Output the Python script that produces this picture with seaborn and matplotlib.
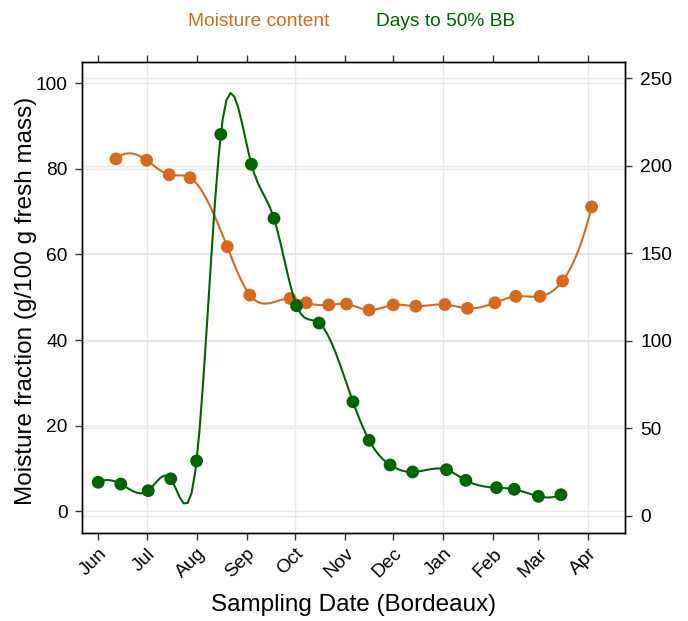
import numpy as np
import pandas as pd
import matplotlib
matplotlib.use("Agg")
import matplotlib.pyplot as plt
import matplotlib.dates as mdates
from matplotlib.lines import Line2D
from matplotlib.transforms import blended_transform_factory
import seaborn as sns

# ---- data -----------------------------------------------------------------
moisture_dates = ["2014-06-12", "2014-07-01", "2014-07-15", "2014-07-28",
                  "2014-08-20", "2014-09-03", "2014-09-28", "2014-10-08",
                  "2014-10-22", "2014-11-02", "2014-11-16", "2014-12-01",
                  "2014-12-15", "2015-01-02", "2015-01-16", "2015-02-02",
                  "2015-02-15", "2015-03-02", "2015-03-16", "2015-04-03"]
moisture_values = [82.3, 82.0, 78.6, 77.9, 61.8, 50.5, 49.7, 48.7, 48.2, 48.4,
                   47.0, 48.2, 47.9, 48.3, 47.4, 48.7, 50.2, 50.2, 53.8, 71.1]

bb_dates = ["2014-06-01", "2014-06-15", "2014-07-02", "2014-07-16",
            "2014-08-01", "2014-08-16", "2014-09-04", "2014-09-18",
            "2014-10-02", "2014-10-16", "2014-11-06", "2014-11-16",
            "2014-11-29", "2014-12-13", "2015-01-03", "2015-01-15",
            "2015-02-03", "2015-02-14", "2015-03-01", "2015-03-15"]
bb_days = [19.1, 18.1, 14.3, 21.1, 31.3, 217.9, 200.8, 169.9, 120.0, 110.1,
           65.1, 43.1, 29.0, 25.0, 26.3, 20.2, 16.0, 15.1, 11.1, 12.0]

legend_labels = ["Moisture content", "Days to 50% BB"]
x_label = "Sampling Date (Bordeaux)"
y_label = "Moisture fraction (g/100 g fresh mass)"
left_ticks = [0, 20, 40, 60, 80, 100]
right_ticks = [0, 50, 100, 150, 200, 250]
grid_months = ["2014-07-01", "2014-10-01", "2015-01-01", "2015-04-01"]

ORANGE = "#D4691F"
GREEN = "#006400"
GRID = "#E8E8E8"


def fmm_spline(x, y, n_out):
    """Cubic interpolating spline (Forsythe-Malcolm-Moler end conditions)."""
    x = np.asarray(x, float)
    y = np.asarray(y, float)
    n = len(x)
    h = np.diff(x)
    d = np.diff(y) / h
    A = np.zeros((n, n))
    b = np.zeros(n)
    for i in range(1, n - 1):
        A[i, i - 1] = h[i - 1]
        A[i, i] = 2 * (h[i - 1] + h[i])
        A[i, i + 1] = h[i]
        b[i] = 6 * (d[i] - d[i - 1])

    def third_dd(xx, yy):
        d1 = np.diff(yy) / np.diff(xx)
        d2 = np.diff(d1) / (xx[2:] - xx[:-2])
        return (d2[1] - d2[0]) / (xx[3] - xx[0])

    A[0, 0], A[0, 1] = -1.0, 1.0
    b[0] = 6 * h[0] * third_dd(x[:4], y[:4])
    A[-1, -2], A[-1, -1] = -1.0, 1.0
    b[-1] = 6 * h[-1] * third_dd(x[-4:], y[-4:])
    M = np.linalg.solve(A, b)

    xs = np.linspace(x[0], x[-1], n_out)
    idx = np.clip(np.searchsorted(x, xs, side="right") - 1, 0, n - 2)
    x0, x1 = x[idx], x[idx + 1]
    hh = x1 - x0
    t0, t1 = x1 - xs, xs - x0
    ys = (M[idx] * t0 ** 3 + M[idx + 1] * t1 ** 3) / (6 * hh) \
        + (y[idx] / hh - M[idx] * hh / 6) * t0 \
        + (y[idx + 1] / hh - M[idx + 1] * hh / 6) * t1
    return xs, ys


def to_num(dates):
    return mdates.date2num(pd.to_datetime(dates))


def to_dt(nums):
    return pd.Timestamp("1970-01-01") + pd.to_timedelta(nums, unit="D")


moist = pd.DataFrame({"date": pd.to_datetime(moisture_dates), "value": moisture_values})
bb = pd.DataFrame({"date": pd.to_datetime(bb_dates), "value": bb_days})

mx, my = fmm_spline(to_num(moisture_dates), moisture_values, 160)
bx, by = fmm_spline(to_num(bb_dates), bb_days, 120)
moist_curve = pd.DataFrame({"date": to_dt(mx), "value": my})
bb_curve = pd.DataFrame({"date": to_dt(bx), "value": by})

# ---- figure ---------------------------------------------------------------
sns.set_theme(style="white")
plt.rcParams["font.family"] = ["Liberation Sans", "DejaVu Sans"]

fig = plt.figure(figsize=(6.88, 6.21), dpi=100)
ax1 = fig.add_axes([0.1196, 0.1422, 0.9084 - 0.1196, 0.9006 - 0.1422])
ax2 = ax1.twinx()

# moisture series (left axis)
sns.lineplot(data=moist_curve, x="date", y="value", ax=ax1, color=ORANGE,
             lw=1.5, estimator=None, sort=False, zorder=2)
sns.scatterplot(data=moist, x="date", y="value", ax=ax1, color=ORANGE,
                s=85, edgecolor="none", zorder=3)

# budburst series (right axis)
sns.lineplot(data=bb_curve, x="date", y="value", ax=ax2, color=GREEN,
             lw=1.5, estimator=None, sort=False, zorder=2)
sns.scatterplot(data=bb, x="date", y="value", ax=ax2, color=GREEN,
                s=85, edgecolor="none", zorder=3)

x_start = pd.Timestamp("2014-06-01")
ax1.set_xlim(x_start - pd.Timedelta(days=9.9), x_start + pd.Timedelta(days=326.7))
ax1.set_ylim(-5.0, 105.0)
ax2.set_ylim(-9.7, 259.4)

ax1.set_yticks(left_ticks)
ax2.set_yticks(right_ticks)
ax1.xaxis.set_major_locator(mdates.MonthLocator())
ax1.xaxis.set_major_formatter(mdates.DateFormatter("%b"))

# grid: rows for both scales, columns every quarter
ax1.grid(False)
ax2.grid(False)
for v in left_ticks:
    ax1.axhline(v, color=GRID, lw=1.0, zorder=0.5)
trans = blended_transform_factory(ax1.transAxes, ax2.transData)
for v in right_ticks:
    ax1.add_line(Line2D([0, 1], [v, v], transform=trans, color=GRID, lw=1.0, zorder=0.5))
for m in pd.to_datetime(grid_months):
    ax1.axvline(m, color=GRID, lw=1.0, zorder=0.5)

for ax in (ax1, ax2):
    for s in ax.spines.values():
        s.set_color("black")
        s.set_linewidth(1.0)

tick_kw = dict(direction="out", length=5, width=1, color="#333333",
               labelsize=13.75, labelcolor="black")
ax1.tick_params(axis="y", which="major", left=True, right=False, pad=5.5, **tick_kw)
ax2.tick_params(axis="y", which="major", right=True, left=False, pad=6, **tick_kw)
ax1.tick_params(axis="x", which="major", bottom=True, top=True, labeltop=False,
                pad=4, **tick_kw)
for lab in ax1.get_xticklabels():
    lab.set_rotation(45)
    lab.set_ha("right")
    lab.set_rotation_mode("anchor")

ax1.set_xlabel(x_label, fontsize=17.5, color="black")
ax1.set_ylabel(y_label, fontsize=17.5, color="black")
ax1.xaxis.label.set_va("center")
ax1.yaxis.label.set_va("center")
ax1.xaxis.set_label_coords(0.5, -0.1535)
ax1.yaxis.set_label_coords(-0.1037, 0.492)
ax2.set_ylabel("")

fig.text(0.376, 0.966, legend_labels[0], color=ORANGE, fontsize=13.75, ha="center", va="center")
fig.text(0.648, 0.966, legend_labels[1], color=GREEN, fontsize=13.75, ha="center", va="center")

fig.savefig("out.png", dpi=100)
